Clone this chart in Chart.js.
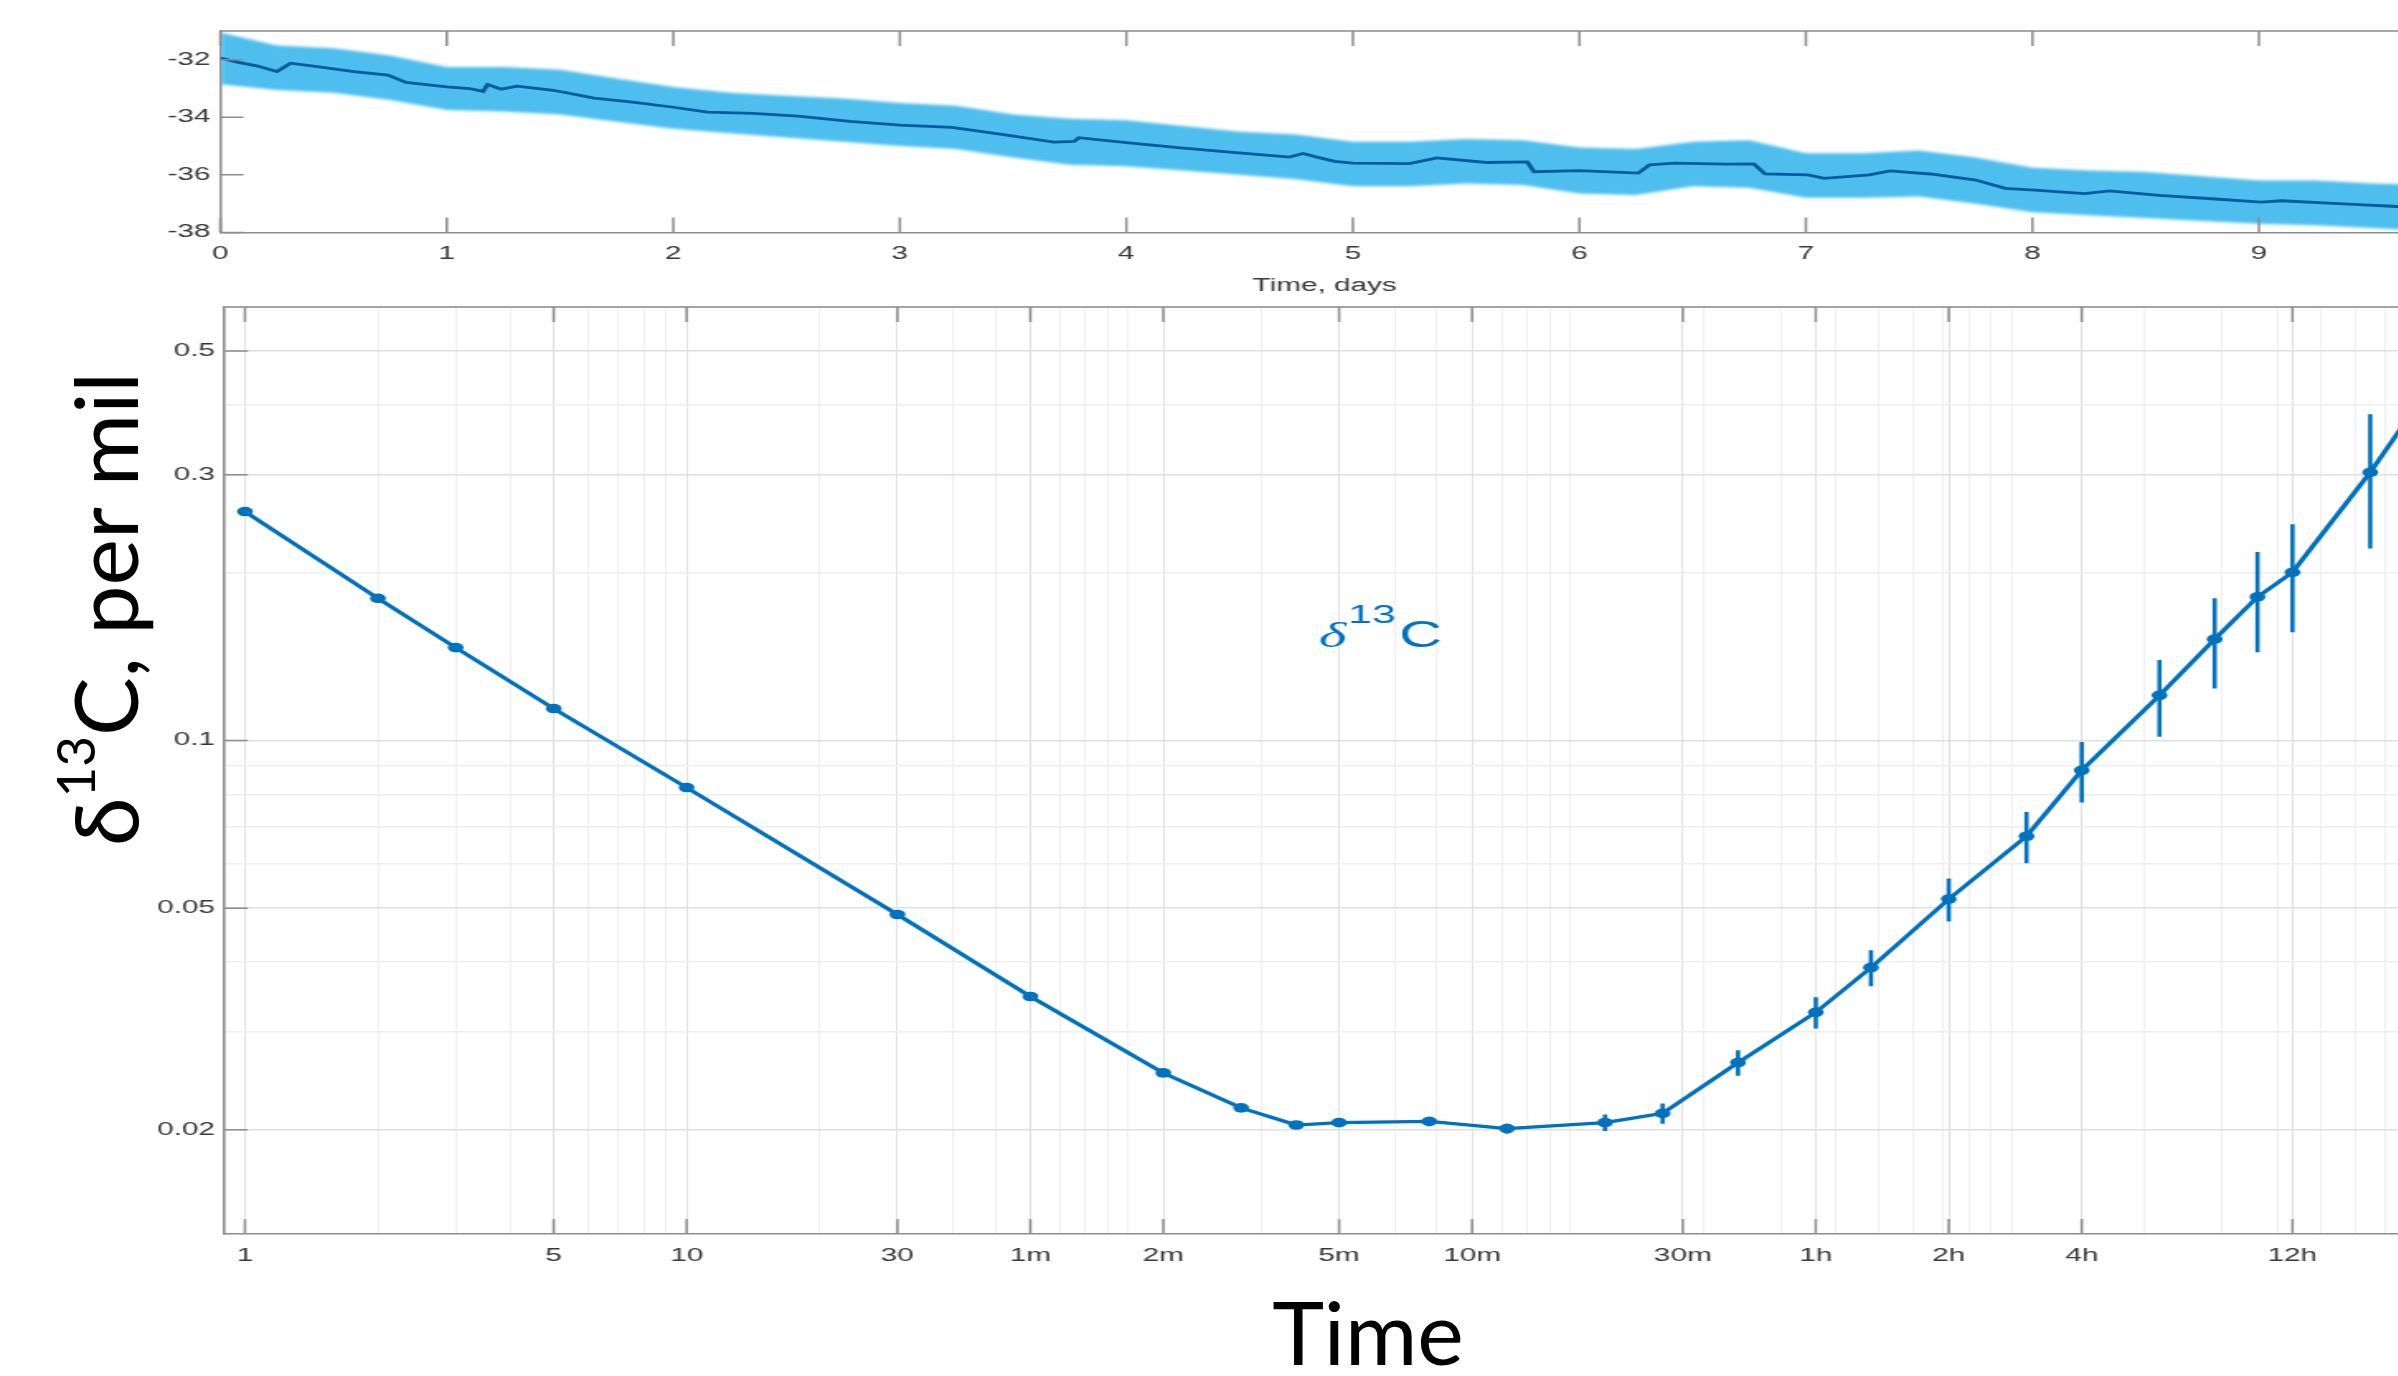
<!DOCTYPE html>
<html>
<head>
<meta charset="utf-8">
<title>d13C record and Allan deviation</title>
<script src="https://cdn.jsdelivr.net/npm/chart.js@4.4.1/dist/chart.umd.min.js"></script>
<style>
  html, body { margin: 0; padding: 0; background: #fff; }
  body { width: 2398px; height: 1376px; position: relative; overflow: hidden; }
  /* the MATLAB figure is shown stretched sideways on the slide */
  .panel { position: absolute; left: 0; transform: scaleX(1.65); transform-origin: 0 0; }
  .slideText { position: absolute; font-family: Lato, "Noto Sans", sans-serif; font-size: 88px;
               line-height: 1; color: #000; white-space: nowrap; }
  #yTitle { left: 104px; top: 609px; transform: translate(-50%, -50%) rotate(-90deg); }
  #yTitle sup { font-size: 53px; vertical-align: 43px; line-height: 0; }
  #xTitle { left: 1368px; top: 1287px; transform: translateX(-50%); }
</style>
</head>
<body>
<div class="panel" style="top:0"><canvas id="seriesChart" width="1472" height="300"></canvas></div>
<div class="panel" style="top:300px"><canvas id="adevChart" width="1472" height="1076"></canvas></div>
<div class="slideText" id="yTitle">δ<sup>13</sup>C, per mil</div>
<div class="slideText" id="xTitle">Time</div>

<script>
// ---- top panel: raw d13C over ten days (scatter envelope + running mean) ----
var traceDays = [0, 0.08, 0.16, 0.25, 0.31, 0.42, 0.59, 0.74, 0.82, 1.0, 1.1, 1.16, 1.18, 1.24, 1.31,
                 1.47, 1.65, 1.82, 2.0, 2.15, 2.35, 2.55, 2.78, 3.0, 3.23, 3.45, 3.68, 3.77, 3.79, 4.0,
                 4.24, 4.47, 4.72, 4.78, 4.85, 4.92, 5.0, 5.25, 5.37, 5.59, 5.77, 5.8, 6.0, 6.26, 6.31,
                 6.42, 6.65, 6.77, 6.82, 7.01, 7.08, 7.28, 7.37, 7.55, 7.75, 7.88, 8.01, 8.23, 8.34,
                 8.56, 8.79, 9.01, 9.1, 9.35, 9.61, 9.75];
var traceMean = [-31.94, -32.09, -32.21, -32.41, -32.12, -32.23, -32.41, -32.53, -32.79, -32.94, -33.0,
                 -33.10, -32.86, -33.02, -32.92, -33.06, -33.33, -33.47, -33.65, -33.82, -33.86, -33.96,
                 -34.14, -34.27, -34.35, -34.59, -34.86, -34.84, -34.71, -34.88, -35.06, -35.22, -35.38,
                 -35.26, -35.40, -35.53, -35.59, -35.61, -35.41, -35.57, -35.55, -35.89, -35.85, -35.94,
                 -35.65, -35.59, -35.63, -35.62, -35.97, -36.0, -36.12, -36.0, -35.86, -35.97, -36.18,
                 -36.47, -36.53, -36.65, -36.56, -36.71, -36.83, -36.95, -36.9, -37.0, -37.10, -37.14];

var bandDays = [0, 0.25, 0.5, 0.75, 1, 1.25, 1.5, 1.75, 2, 2.25, 2.5, 2.75, 3, 3.25, 3.5, 3.75, 4, 4.25,
                4.5, 4.75, 5, 5.25, 5.5, 5.75, 6, 6.25, 6.5, 6.75, 7, 7.25, 7.5, 7.75, 8, 8.25, 8.5, 8.75,
                9, 9.25, 9.5, 9.75];
var bandHigh = [-31.05, -31.5, -31.6, -31.85, -32.25, -32.25, -32.35, -32.65, -32.95, -33.15, -33.25,
                -33.35, -33.5, -33.6, -33.9, -34.05, -34.1, -34.3, -34.5, -34.6, -34.85, -34.85, -34.75,
                -34.8, -35.05, -35.1, -34.85, -34.8, -35.25, -35.25, -35.15, -35.4, -35.75, -35.85, -35.9,
                -36.05, -36.2, -36.2, -36.3, -36.35];
var bandLow = [-32.85, -33.05, -33.15, -33.4, -33.75, -33.8, -33.9, -34.15, -34.4, -34.55, -34.7, -34.85,
               -35.0, -35.1, -35.4, -35.65, -35.7, -35.85, -36.0, -36.15, -36.4, -36.4, -36.3, -36.35,
               -36.65, -36.7, -36.4, -36.45, -36.8, -36.8, -36.75, -37.0, -37.3, -37.4, -37.5, -37.6,
               -37.7, -37.75, -37.85, -37.95];

var dayTicks = [0, 1, 2, 3, 4, 5, 6, 7, 8, 9];
var permilTicks = [-38, -36, -34, -32];

// ---- bottom panel: Allan deviation vs averaging time (seconds) ----
var tauSec = [1, 2, 3, 5, 10, 30, 60, 120, 180, 240, 300, 480, 720, 1200, 1620, 2400, 3600, 4800,
              7200, 10800, 14400, 21600, 28800, 36000, 43200, 64800, 86400];
var allanDev = [0.2576, 0.1799, 0.1468, 0.1141, 0.0823, 0.0487, 0.0347, 0.0253, 0.0219, 0.0204,
                0.0206, 0.0207, 0.0201, 0.0206, 0.0214, 0.0264, 0.0325, 0.0391, 0.0519, 0.0673,
                0.0884, 0.1205, 0.152, 0.181, 0.2004, 0.303, 0.42];
var allanErr = [0.0003, 0.0002, 0.0002, 0.0002, 0.0002, 0.0002, 0.0002, 0.0003, 0.0003, 0.0003,
                0.0003, 0.0004, 0.0004, 0.0007, 0.0009, 0.0014, 0.0021, 0.0029, 0.0046, 0.0071,
                0.011, 0.019, 0.028, 0.037, 0.044, 0.082, 0.13];

var tauTickVals = [1, 5, 10, 30, 60, 120, 300, 600, 1800, 3600, 7200, 14400, 43200];
var tauTickText = ['1', '5', '10', '30', '1m', '2m', '5m', '10m', '30m', '1h', '2h', '4h', '12h'];
var devTickVals = [0.02, 0.05, 0.1, 0.3, 0.5];
var devTickText = ['0.02', '0.05', '0.1', '0.3', '0.5'];

// where the "d13C" note sits (left end of its baseline), in data units
var noteTau = 270;
var noteDev = 0.147;

const LINE_BLUE = '#0072BD';
const BAND_BLUE = '#4DBEEE';
const MEAN_BLUE = '#0A5A9E';
const AXIS_GREY = '#8c8c8c';

Chart.defaults.font.family = '"Liberation Sans", Arial, sans-serif';
Chart.defaults.font.size = 18;
Chart.defaults.color = '#383838';

function pairs(xs, ys) {
    return xs.map(function (v, i) { return {x: v, y: ys[i]}; });
}

// MATLAB-style box: top edge plus inward tick marks on bottom, top and left
function frameTicks(xVals, yVals) {
    return {
        id: 'frameTicks',
        afterDatasetsDraw(chart) {
            const ctx = chart.ctx, a = chart.chartArea;
            const x = chart.scales.x, y = chart.scales.y;
            ctx.save();
            ctx.strokeStyle = AXIS_GREY;
            ctx.lineWidth = 1.5;
            ctx.beginPath();
            ctx.moveTo(a.left, a.top);
            ctx.lineTo(a.right, a.top);
            xVals.forEach(function (v) {
                const px = x.getPixelForValue(v);
                ctx.moveTo(px, a.bottom); ctx.lineTo(px, a.bottom - 15);
                ctx.moveTo(px, a.top); ctx.lineTo(px, a.top + 15);
            });
            yVals.forEach(function (v) {
                const py = y.getPixelForValue(v);
                ctx.moveTo(a.left, py); ctx.lineTo(a.left + 14, py);
            });
            ctx.stroke();
            ctx.restore();
        }
    };
}

// soft edge on the scatter envelope
const bandBlur = {
    id: 'bandBlur',
    afterDatasetDraw(chart, args) {
        if (args.index === 2) {
            chart.ctx.save();
            chart.ctx.filter = 'blur(1.5px)';
        } else if (args.index === 1) {
            chart.ctx.restore();
        }
    }
};

new Chart(document.getElementById('seriesChart'), {
    type: 'line',
    data: {
        datasets: [
            {label: 'running mean', data: pairs(traceDays, traceMean), borderColor: MEAN_BLUE,
             borderWidth: 2.8, pointRadius: 0, fill: false},
            {label: 'upper', data: pairs(bandDays, bandHigh), borderWidth: 0, pointRadius: 0,
             backgroundColor: BAND_BLUE, fill: '+1'},
            {label: 'lower', data: pairs(bandDays, bandLow), borderWidth: 0, pointRadius: 0, fill: false}
        ]
    },
    options: {
        responsive: false,
        devicePixelRatio: 1,
        animation: false,
        events: [],
        layout: {padding: {top: 31, left: 0, right: 0, bottom: 0}, autoPadding: false},
        plugins: {legend: {display: false}, tooltip: {enabled: false}},
        scales: {
            x: {
                type: 'linear', min: 0, max: 9.75,
                afterBuildTicks: function (s) { s.ticks = dayTicks.map(function (v) { return {value: v}; }); },
                afterFit: function (s) { s.height = 67.6; },
                grid: {display: false, drawTicks: false},
                border: {display: true, color: AXIS_GREY, width: 1.5},
                ticks: {padding: 11, maxRotation: 0, autoSkip: false},
                title: {display: true, text: 'Time, days', font: {size: 18}, color: '#383838',
                        padding: {top: 0, bottom: 3}}
            },
            y: {
                type: 'linear', min: -38, max: -31,
                afterBuildTicks: function (s) { s.ticks = permilTicks.map(function (v) { return {value: v}; }); },
                afterFit: function (s) { s.width = 133.5; s.paddingTop = 0; s.paddingBottom = 0; },
                grid: {display: false, drawTicks: false},
                border: {display: true, color: AXIS_GREY, width: 1.5},
                ticks: {padding: 6, autoSkip: false}
            }
        }
    },
    plugins: [bandBlur, frameTicks(dayTicks, permilTicks)]
});

// grid lines at 1..9 x 10^n plus the labelled ticks
function logGrid(lo, hi, marks) {
    var vals = new Set(marks);
    for (var e = Math.floor(Math.log10(lo)); e <= Math.ceil(Math.log10(hi)); e++) {
        for (var k = 1; k <= 9; k++) {
            var v = +(k * Math.pow(10, e)).toPrecision(6);
            if (v >= lo && v <= hi) vals.add(v);
        }
    }
    return Array.from(vals).sort(function (a, b) { return a - b; });
}

function labelFrom(vals, text) {
    return function (value) {
        var k = vals.indexOf(value);
        return k < 0 ? '' : text[k];
    };
}

function gridShade(marks) {
    return function (c) {
        return c.tick && marks.indexOf(c.tick.value) >= 0 ? '#e0e0e0' : '#efefef';
    };
}

const errorBars = {
    id: 'errorBars',
    beforeDatasetsDraw(chart) {
        const ctx = chart.ctx, x = chart.scales.x, y = chart.scales.y, a = chart.chartArea;
        ctx.save();
        ctx.beginPath();
        ctx.rect(a.left, a.top, a.right - a.left, a.bottom - a.top);
        ctx.clip();
        ctx.strokeStyle = LINE_BLUE;
        ctx.lineWidth = 2.6;
        ctx.beginPath();
        tauSec.forEach(function (t, i) {
            const px = x.getPixelForValue(t);
            ctx.moveTo(px, y.getPixelForValue(allanDev[i] + allanErr[i]));
            ctx.lineTo(px, y.getPixelForValue(allanDev[i] - allanErr[i]));
        });
        ctx.stroke();
        ctx.restore();
    }
};

const isotopeNote = {
    id: 'isotopeNote',
    afterDatasetsDraw(chart) {
        const ctx = chart.ctx;
        let px = chart.scales.x.getPixelForValue(noteTau);
        const py = chart.scales.y.getPixelForValue(noteDev);
        ctx.save();
        ctx.fillStyle = LINE_BLUE;
        ctx.textBaseline = 'alphabetic';
        ctx.textAlign = 'left';
        ctx.font = 'italic 36px "Liberation Serif", serif';
        ctx.fillText('δ', px, py);
        px += ctx.measureText('δ').width + 1;
        ctx.font = '26px "Liberation Sans", Arial, sans-serif';
        ctx.fillText('13', px, py - 24);
        px += ctx.measureText('13').width + 2;
        ctx.font = '36px "Liberation Sans", Arial, sans-serif';
        ctx.fillText('C', px, py);
        ctx.restore();
    }
};

new Chart(document.getElementById('adevChart'), {
    type: 'line',
    data: {
        datasets: [{
            label: 'Allan deviation',
            data: pairs(tauSec, allanDev),
            borderColor: LINE_BLUE,
            backgroundColor: LINE_BLUE,
            borderWidth: 3.2,
            pointRadius: 4.8,
            pointBorderWidth: 0,
            tension: 0,
            fill: false
        }]
    },
    options: {
        responsive: false,
        devicePixelRatio: 1,
        animation: false,
        events: [],
        layout: {padding: {top: 7, left: 0, right: 0, bottom: 0}, autoPadding: false},
        plugins: {legend: {display: false}, tooltip: {enabled: false}},
        scales: {
            x: {
                type: 'logarithmic', min: 0.9, max: 86400,
                afterBuildTicks: function (s) {
                    s.ticks = logGrid(0.9, 86400, tauTickVals).map(function (v) { return {value: v}; });
                },
                afterFit: function (s) { s.height = 142; },
                grid: {drawTicks: false, lineWidth: 1, color: gridShade(tauTickVals)},
                border: {display: true, color: AXIS_GREY, width: 1.5},
                ticks: {padding: 11, maxRotation: 0, autoSkip: false,
                        callback: labelFrom(tauTickVals, tauTickText)}
            },
            y: {
                type: 'logarithmic', min: 0.013, max: 0.6,
                afterBuildTicks: function (s) {
                    s.ticks = logGrid(0.013, 0.6, devTickVals).map(function (v) { return {value: v}; });
                },
                afterFit: function (s) { s.width = 136.2; s.paddingTop = 0; s.paddingBottom = 0; },
                grid: {drawTicks: false, lineWidth: 1.6, color: gridShade(devTickVals)},
                border: {display: true, color: AXIS_GREY, width: 1.5},
                ticks: {padding: 6, autoSkip: false, callback: labelFrom(devTickVals, devTickText)}
            }
        }
    },
    plugins: [errorBars, isotopeNote, frameTicks(tauTickVals, devTickVals)]
});
</script>
</body>
</html>
